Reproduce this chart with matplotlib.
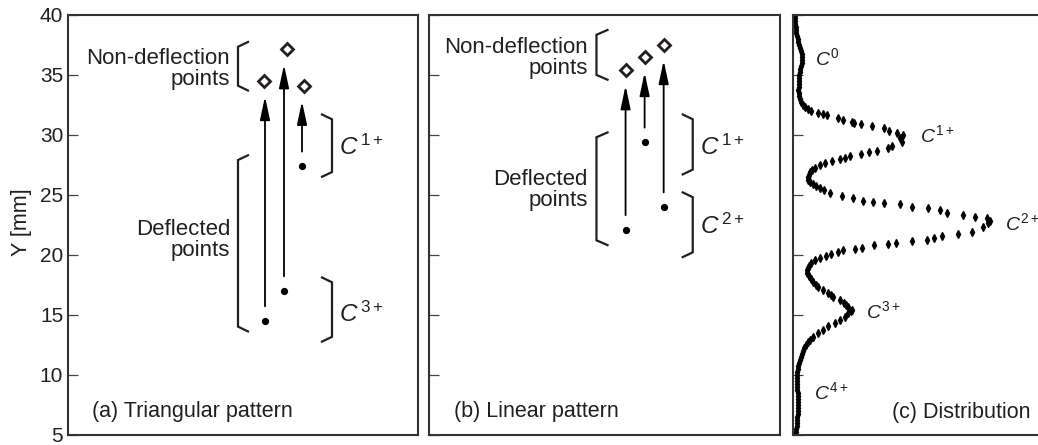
import numpy as np
import matplotlib.pyplot as plt

plt.rcParams['font.family'] = ['Liberation Sans', 'DejaVu Sans']
plt.rcParams['mathtext.fontset'] = 'custom'
plt.rcParams['mathtext.rm'] = 'Liberation Sans'
plt.rcParams['mathtext.it'] = 'Liberation Sans:italic'

DARK = '#231f20'

# (a) triangular pattern: ion spots on the detector (x in arbitrary units)
a_free_x = [196, 219, 236]
a_free_y = [34.5, 37.15, 34.1]
a_defl_x = [197, 216, 234]
a_defl_y = [14.5, 17.0, 27.4]

# (b) linear pattern
b_free_x = [196, 215, 234]
b_free_y = [35.4, 36.5, 37.5]
b_defl_x = [196, 215, 234]
b_defl_y = [22.1, 29.4, 24.0]

# (c) distribution along Y
c_y = [40.00, 39.75, 39.50, 39.25, 39.00, 38.75, 38.50, 38.25, 38.00, 37.75,
       37.50, 37.25, 37.00, 36.75, 36.50, 36.25, 36.00, 35.75, 35.50, 35.25,
       35.00, 34.75, 34.50, 34.25, 34.00, 33.75, 33.50, 33.25, 33.00, 32.75,
       32.50, 32.33, 32.17, 32.00, 31.83, 31.75, 31.67, 31.42, 31.25, 31.08,
       31.00, 30.92, 30.75, 30.58, 30.33, 30.17, 30.00, 29.75, 29.42, 29.08,
       28.92, 28.67, 28.58, 28.42, 28.25, 28.08, 28.00, 27.83, 27.67, 27.50,
       27.25, 27.08, 26.92, 26.67, 26.50, 26.25, 26.08, 25.92, 25.75, 25.58,
       25.42, 25.17, 24.92, 24.75, 24.50, 24.42, 24.33, 24.25, 24.00, 23.92,
       23.75, 23.50, 23.33, 23.17, 23.08, 22.83, 22.67, 22.33, 21.92, 21.75,
       21.58, 21.42, 21.25, 21.17, 21.00, 20.92, 20.83, 20.58, 20.50, 20.42,
       20.25, 20.08, 19.92, 19.75, 19.58, 19.33, 19.08, 18.92, 18.75, 18.50,
       18.25, 18.00, 17.75, 17.50, 17.33, 17.08, 16.83, 16.67, 16.50, 16.25,
       16.00, 15.83, 15.67, 15.42, 15.33, 15.17, 14.83, 14.58, 14.33, 14.08,
       13.75, 13.50, 13.17, 12.92, 12.75, 12.50, 12.25, 12.00, 11.75, 11.50,
       11.25, 11.00, 10.75, 10.50, 10.25, 10.00, 9.75, 9.50, 9.25, 9.00,
       8.75, 8.50, 8.25, 8.00, 7.75, 7.50, 7.25, 7.00, 6.75, 6.50,
       6.25, 6.00, 5.75, 5.50, 5.25, 5.00]
c_counts = [2, 2, 2, 2, 3, 3, 3, 4, 5, 5,
            6, 7, 8, 9, 9, 9, 9, 8, 7, 7,
            6, 6, 6, 6, 6, 5, 6, 6, 7, 8,
            10, 12, 15, 18, 25, 30, 34, 45, 50, 59,
            61, 68, 79, 91, 96, 104, 110, 107, 109, 99,
            95, 84, 76, 68, 57, 52, 47, 39, 32, 27,
            22, 19, 17, 16, 15, 15, 17, 20, 23, 27,
            31, 37, 49, 60, 70, 80, 91, 107, 119, 135,
            147, 154, 170, 182, 194, 197, 195, 190, 179, 165,
            149, 141, 134, 119, 103, 95, 81, 69, 62, 50,
            45, 38, 33, 27, 22, 18, 16, 15, 14, 14,
            16, 18, 20, 23, 25, 30, 35, 38, 40, 47,
            51, 53, 55, 59, 58, 55, 52, 47, 42, 35,
            30, 25, 20, 17, 15, 13, 11, 10, 9, 8,
            7, 6, 5, 5, 4, 4, 4, 4, 4, 4,
            4, 5, 5, 5, 5, 5, 5, 5, 5, 4,
            4, 4, 4, 3, 3, 2]

W, H = 1038, 445
fig = plt.figure(figsize=(W / 100, H / 100), dpi=100)
bot, top = 10.5 / H, 419.5 / H
ax_a = fig.add_axes([68 / W, bot, 350 / W, top])
ax_b = fig.add_axes([429 / W, bot, 351 / W, top])
ax_c = fig.add_axes([793 / W, bot, 350 / W, top])

for ax in (ax_a, ax_b, ax_c):
    ax.set_xlim(0, 350)
    ax.set_ylim(5, 40)
    ax.set_yticks(np.arange(5, 41, 5))
    ax.set_xticks([])
    ax.tick_params(axis='y', direction='in', length=7, width=0.9, color='#444444',
                   labelsize=15, labelcolor=DARK, pad=3.5)
    for s in ax.spines.values():
        s.set_linewidth(1.5)
        s.set_color('#333333')
ax_b.set_yticklabels([])
ax_c.set_yticklabels([])
fig.text(22 / W, 0.5, 'Y [mm]', rotation=90, ha='center', va='center',
         fontsize=15.5, color=DARK)


def bracket(ax, x_open, x_back, y_top, y_bot, d=0.4):
    ax.plot([x_open, x_back, x_back, x_open], [y_top, y_top - d, y_bot + d, y_bot],
            color=DARK, lw=1.6, solid_joinstyle='miter')


def spots(ax, fx, fy, dx, dy):
    ax.plot(fx, fy, ls='none', marker='D', ms=6.5, mfc='white', mec=DARK, mew=2)
    ax.plot(dx, dy, ls='none', marker='o', ms=4.2, color='black')
    for x, y0, y1 in zip(dx, dy, fy):
        ax.annotate('', xy=(x, y1 - 1.3), xytext=(x, y0 + 1.2),
                    arrowprops=dict(arrowstyle='-|>,head_length=1.4,head_width=0.3',
                                    lw=1.3, color='black', shrinkA=0, shrinkB=0,
                                    mutation_scale=10))


LBL = dict(ha='right', va='center', multialignment='right', fontsize=16,
           color=DARK, linespacing=1.0)

# panel (a)
spots(ax_a, a_free_x, a_free_y, a_defl_x, a_defl_y)
bracket(ax_a, 180, 170, 37.75, 33.7)
bracket(ax_a, 180, 170, 28.3, 13.6)
bracket(ax_a, 254, 264, 31.7, 26.5)
bracket(ax_a, 254, 264, 18.1, 12.75)
ax_a.text(162, 35.46, 'Non-deflection\npoints', **LBL)
ax_a.text(162, 21.2, 'Deflected\npoints', **LBL)
ax_a.text(271, 29.0, r'$C^{\,1+}$', ha='left', va='center', fontsize=17.5, color=DARK)
ax_a.text(271, 15.0, r'$C^{\,3+}$', ha='left', va='center', fontsize=17.5, color=DARK)
ax_a.text(24, 6.9, '(a) Triangular pattern', ha='left', va='center',
          fontsize=15.5, color=DARK)

# panel (b)
spots(ax_b, b_free_x, b_free_y, b_defl_x, b_defl_y)
bracket(ax_b, 178, 167, 38.75, 34.6)
bracket(ax_b, 178, 167, 30.2, 20.8)
bracket(ax_b, 253, 263, 31.7, 26.7)
bracket(ax_b, 253, 263, 25.2, 19.8)
ax_b.text(158, 36.4, 'Non-deflection\npoints', **LBL)
ax_b.text(158, 25.4, 'Deflected\npoints', **LBL)
ax_b.text(270, 29.0, r'$C^{\,1+}$', ha='left', va='center', fontsize=17.5, color=DARK)
ax_b.text(270, 22.4, r'$C^{\,2+}$', ha='left', va='center', fontsize=17.5, color=DARK)
ax_b.text(25, 6.9, '(b) Linear pattern', ha='left', va='center',
          fontsize=15.5, color=DARK)

# panel (c)
ax_c.plot(c_counts, c_y, ls='none', marker='d', ms=3.6, color='black')
c_labels = [(22, 36.4, '0'), (127, 30.0, '1+'), (212, 22.6, '2+'),
            (73, 15.25, '3+'), (21, 8.5, '4+')]
for x, y, q in c_labels:
    ax_c.text(x, y, r'$C^{%s}$' % q, ha='left', va='center', fontsize=14, color=DARK)
ax_c.text(99, 6.85, '(c) Distribution', ha='left', va='center',
          fontsize=15.5, color=DARK)

fig.savefig('out.png', dpi=100)
